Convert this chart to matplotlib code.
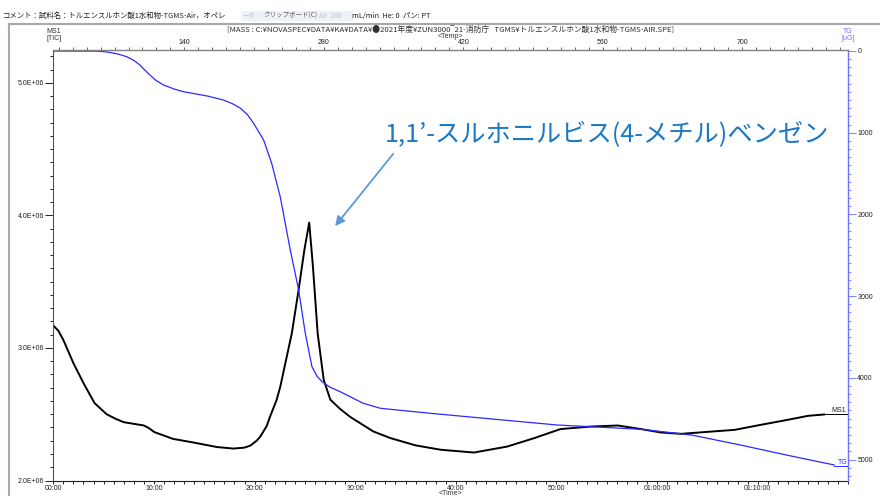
import matplotlib
matplotlib.use("Agg")
import matplotlib.pyplot as plt
from matplotlib.lines import Line2D
from matplotlib.ticker import FuncFormatter, MultipleLocator

plt.rcParams["font.family"] = ["Liberation Sans", "Noto Sans CJK JP", "DejaVu Sans"]

# MS1 (TIC) trace, time in minutes
ms_time = [0, 0.5, 1.0, 2.0, 3.0, 4.1, 5.3, 6.2, 7.0, 8.2, 9.0, 9.5, 10.05,
           11.9, 13.9, 16.3, 17.9, 19.0, 19.6, 20.2, 20.56, 21.2, 21.53, 22.2,
           22.56, 23.13, 23.7, 24.38, 24.95, 25.43, 25.8, 26.27, 26.87, 27.53,
           28.5, 29.5, 31.8, 33.5, 36.0, 38.5, 41.8, 45.1, 47.8, 50.4, 53.4,
           56.1, 58.4, 60.4, 62.4, 65.0, 67.7, 70.3, 73.0, 75.0, 76.6]
ms_val = [3.169e6, 3.13e6, 3.06e6, 2.885e6, 2.735e6, 2.584e6, 2.50e6, 2.465e6,
          2.44e6, 2.425e6, 2.415e6, 2.395e6, 2.365e6, 2.314e6, 2.287e6,
          2.252e6, 2.241e6, 2.248e6, 2.264e6, 2.30e6, 2.33e6, 2.41e6, 2.48e6,
          2.61e6, 2.709e6, 2.91e6, 3.11e6, 3.44e6, 3.74e6, 3.946e6, 3.614e6,
          3.11e6, 2.76e6, 2.61e6, 2.54e6, 2.48e6, 2.37e6, 2.32e6, 2.265e6,
          2.232e6, 2.211e6, 2.256e6, 2.32e6, 2.388e6, 2.407e6, 2.415e6,
          2.388e6, 2.362e6, 2.352e6, 2.367e6, 2.382e6, 2.42e6, 2.458e6,
          2.488e6, 2.498e6]

# TG trace (uG, axis inverted)
tg_time = [0, 4.5, 5.5, 6.5, 7.3, 8.0, 8.6, 9.1, 9.6, 10.2, 10.95, 12.0, 12.9,
           15.3, 16.9, 17.8, 18.6, 19.3, 19.9, 20.9, 21.7, 22.56, 23.55, 24.38,
           25.04, 25.7, 26.2, 26.7, 27.5, 28.5, 30.8, 32.5, 37.5, 50.1, 58.4,
           63.4, 68.3, 73.3, 77.6]
tg_val = [0, 2, 15, 40, 70, 115, 171, 235, 294, 360, 416, 465, 498, 551, 600,
          645, 701, 780, 885, 1089, 1375, 1790, 2436, 2925, 3455, 3863, 3980,
          4047, 4115, 4170, 4312, 4373, 4435, 4578, 4630, 4700, 4823, 4957,
          5067]

compound = "1,1’-スルホニルビス(4-メチル)ベンゼン"
header = "コメント：試料名：トルエンスルホン酸1水和物-TGMS-Air，オペレ"
header_faint1 = "ータ："
header_menu = "クリップボード(C)"
header_faint2 = "Air  200"
header_tail = "mL/min  He: 0  パン: PT"
file_path = ("[MASS : C:¥NOVASPEC¥DATA¥KA¥DATA¥●2021年度¥ZUN3000‾21-消防庁   "
             "TGMS¥トルエンスルホン酸1水和物-TGMS-AIR.SPE]")

XMAX = 79.0
BLUE = "#2a2aff"
AX_BLUE = "#7070ff"
NOTE_BLUE = "#1b78c4"
CJK = ["Noto Sans CJK JP", "DejaVu Sans"]
LABEL_SIZE = 5.0


def time_label(m, _pos):
    m = int(round(m))
    if m < 60:
        return f"{m:02d}:00"
    return f"{m // 60:02d}:{m % 60:02d}:00"


fig = plt.figure(figsize=(8.8, 4.96), dpi=100)
ax = fig.add_axes([53.3 / 880, 1 - 480.5 / 496, 795 / 880, 430.5 / 496])
ax_tg = ax.twinx()
ax_temp = ax.twiny()

ax.plot(ms_time, ms_val, color="black", lw=1.4)
ax.plot([ms_time[-1], XMAX], [ms_val[-1], ms_val[-1]], color="black", lw=0.7, clip_on=False)
ax.text(77.3, ms_val[-1] + 6000, "MS1", fontsize=LABEL_SIZE, color="#202020",
        ha="left", va="bottom")
ax.set_xlim(0, XMAX)
ax.set_ylim(2.0e6, 5.248e6)

ax_tg.plot(tg_time, tg_val, color=BLUE, lw=0.9)
ax_tg.plot([tg_time[-1], XMAX], [tg_val[-1] + 12, tg_val[-1] + 12], color=BLUE, lw=0.7, clip_on=False)
ax_tg.text(78.0, tg_val[-1] + 8, "TG", fontsize=LABEL_SIZE, color=BLUE, ha="left", va="bottom")
ax_tg.set_ylim(5257, -12)

ax_temp.set_xlim(8.5, 806.4)

# ticks
ax.xaxis.set_major_locator(MultipleLocator(10))
ax.xaxis.set_minor_locator(MultipleLocator(1))
ax.xaxis.set_major_formatter(FuncFormatter(time_label))
ax.yaxis.set_major_locator(MultipleLocator(1e6))
ax.yaxis.set_minor_locator(MultipleLocator(1e5))
ax.yaxis.set_major_formatter(FuncFormatter(lambda v, p: f"{v / 1e6:.1f}E+06"))
ax_tg.yaxis.set_major_locator(MultipleLocator(1000))
ax_tg.yaxis.set_minor_locator(MultipleLocator(100))
ax_temp.xaxis.set_major_locator(MultipleLocator(140))
ax_temp.xaxis.set_minor_locator(MultipleLocator(14))

for a in (ax, ax_tg, ax_temp):
    a.tick_params(which="major", length=5.5, width=0.6, labelsize=LABEL_SIZE, pad=1.0,
                  labelcolor="#202020")
    a.tick_params(which="minor", length=2.5, width=0.6)
    for s in a.spines.values():
        s.set_visible(False)
ax.tick_params(axis="x", which="major", length=2.5, pad=0.5)
ax.tick_params(axis="x", which="minor", length=2)
ax_temp.tick_params(axis="x", which="major", length=2.5, pad=0.3)
ax_temp.tick_params(axis="x", which="minor", length=2)

ax.spines["left"].set_visible(True)
ax.spines["left"].set_color("#505050")
ax.spines["bottom"].set_visible(True)
ax.spines["bottom"].set_color("#202020")
ax_tg.spines["right"].set_visible(True)
ax_tg.spines["right"].set_color(AX_BLUE)
ax_tg.spines["right"].set_linewidth(1.0)
ax_tg.tick_params(which="both", color=AX_BLUE)
ax_temp.spines["top"].set_visible(True)
ax_temp.spines["top"].set_color("#808080")
ax_temp.spines["top"].set_linewidth(1.0)
ax_temp.tick_params(which="both", color="#505050")

# annotation
ax.annotate("", xy=(27.83, 3.903e6), xytext=(33.95, 4.481e6),
            arrowprops=dict(arrowstyle="-|>", color="#5b9bd5", lw=1.3, mutation_scale=14))
ax.text(32.95, 4.607e6, compound, fontsize=18.2, color=NOTE_BLUE, family=CJK,
        ha="left", va="center")

# axis captions
fig.text(54 / 880, 1 - 35 / 496, "MS1\n[TIC]", fontsize=LABEL_SIZE, color="#303030",
         ha="center", va="center", linespacing=0.9)
fig.text(848 / 880, 1 - 35 / 496, "TG\n[uG]", fontsize=LABEL_SIZE, color=AX_BLUE,
         ha="center", va="center", linespacing=0.9)
fig.text(451 / 880, 1 - 29.5 / 496, file_path, fontsize=5.6, color="#303030",
         family=CJK, ha="center", va="center")
fig.text(450 / 880, 1 - 36 / 496, "<Temp>", fontsize=LABEL_SIZE, color="#303030",
         ha="center", va="center")
fig.text(450 / 880, 1 - 493.5 / 496, "<Time>", fontsize=LABEL_SIZE, color="#303030",
         ha="center", va="center")

# header line
fig.text(3 / 880, 1 - 16 / 496, header, fontsize=5.35, color="#202020", family=CJK,
         ha="left", va="center")
fig.patches.append(plt.Rectangle((241 / 880, 1 - 21 / 496), 112 / 880, 10 / 496,
                                 transform=fig.transFigure, fc="#eef1f6", ec="none"))
fig.text(242 / 880, 1 - 16 / 496, header_faint1, fontsize=4.6, color="#c0c4cc",
         family=CJK, ha="left", va="center")
fig.text(263 / 880, 1 - 16 / 496, header_menu, fontsize=4.7, color="#606060",
         family=CJK, ha="left", va="center")
fig.text(319 / 880, 1 - 16 / 496, header_faint2, fontsize=4.8, color="#c0c4cc",
         family=CJK, ha="left", va="center")
fig.text(352 / 880, 1 - 16 / 496, header_tail, fontsize=5.35, color="#202020",
         family=CJK, ha="left", va="center")

# outer window frame
fig.add_artist(Line2D([9 / 880, 1], [1 - 24 / 496, 1 - 24 / 496], color="#a8a8a8", lw=1.5))
fig.add_artist(Line2D([9 / 880, 9 / 880], [0, 1 - 24 / 496], color="#a8a8a8", lw=1.5))

fig.savefig("out.png", dpi=100)
